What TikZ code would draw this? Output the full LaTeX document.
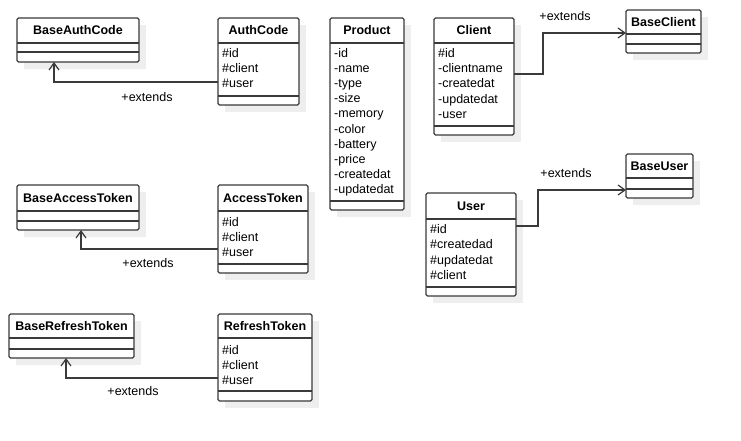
\documentclass[tikz,border=0pt]{standalone}
\usepackage{fontspec}
\setmainfont{Liberation Sans}
\usetikzlibrary{arrows.meta}
\definecolor{shadowc}{HTML}{EEEEEE}
\definecolor{linec}{HTML}{3A3A3A}
\tikzset{
  clsnode/.style={draw=linec, line width=1.2pt, fill=white, rounded corners=1.5pt, inner sep=0pt, outer sep=0pt},
  clsline/.style={draw=linec, line width=1.2pt},
  clstitle/.style={font=\fontsize{12.5}{15}\selectfont\bfseries, inner sep=0pt, anchor=base},
  attr/.style={font=\fontsize{12.5}{15}\selectfont, anchor=base west, inner sep=0pt},
  lbl/.style={font=\fontsize{12.5}{15}\selectfont, inner sep=0pt, anchor=base},
  ext/.style={draw=linec, line width=1.2pt, -{Straight Barb[length=7pt,width=10pt,line width=1.2pt]}},
}
% name, x1, y1, x2, yheader, ysep, ybottom, title
\newcommand\clsbox[8]{%
  \fill[shadowc] (#2+7,#3+7) rectangle (#4+7,#7+7);
  \node[clsnode, anchor=north west, minimum width={#4-#2}, minimum height={#7-#3}] (#1) at (#2,#3) {};
  \draw[clsline] (#2,#5) -- (#4,#5);
  \draw[clsline] (#2,#6) -- (#4,#6);
  \node[clstitle] (#1-t) at ({(#2+#4)/2},{(#3+#5)/2+4.5}) {#8};
}
% name, x, y-first (visual centre), step, list
\newcommand\attrs[5]{%
  \foreach \txt [count=\i from 0] in {#5} {
    \node[attr] (#1-a\i) at (#2+4,{#3+4.5+#4*\i}) {\txt};
  }%
}
\begin{document}
\begin{tikzpicture}[x=1pt,y=-1pt]
\useasboundingbox[fill=white] (0,0) rectangle (741,441);

\clsbox{baseauthcode}{17}{18}{139}{43}{52}{62}{BaseAuthCode}
\clsbox{authcode}{218}{18}{299}{43}{96}{105}{AuthCode}
\attrs{authcode}{218}{53}{15}{\#id,\#client,\#user}

\clsbox{product}{330}{18}{404}{43}{201}{210}{Product}
\attrs{product}{330}{53}{15.1}{-id,-name,-type,-size,-memory,-color,-battery,-price,-createdat,-updatedat}

\clsbox{client}{434}{18}{514}{43}{126}{135}{Client}
\attrs{client}{434}{53}{15.2}{\#id,-clientname,-createdat,-updatedat,-user}

\clsbox{baseclient}{626}{10}{701}{34}{44}{53}{BaseClient}

\clsbox{baseuser}{626}{154}{693}{178}{189}{198}{BaseUser}
\clsbox{user}{426}{193}{516}{219}{287}{296}{User}
\attrs{user}{426}{229}{15.3}{\#id,\#createdad,\#updatedat,\#client}

\clsbox{baseaccesstoken}{17}{185}{139}{211}{221}{230}{BaseAccessToken}
\clsbox{accesstoken}{218}{185}{308}{211}{264}{273}{AccessToken}
\attrs{accesstoken}{218}{222}{15}{\#id,\#client,\#user}

\clsbox{baserefreshtoken}{9}{314}{134}{338}{349}{358}{BaseRefreshToken}
\clsbox{refreshtoken}{218}{314}{312}{338}{391}{401}{RefreshToken}
\attrs{refreshtoken}{218}{350}{15}{\#id,\#client,\#user}

% connectors
\draw[ext] (authcode.west |- 0,82) -| (baseauthcode.south -| 54,0);
\node[lbl] (l1) at (147,101.5) {+extends};

\draw[ext] (accesstoken.west |- 0,249) -| (baseaccesstoken.south -| 81,0);
\node[lbl] (l2) at (148,267.5) {+extends};

\draw[ext] (refreshtoken.west |- 0,378) -| (baserefreshtoken.south -| 66,0);
\node[lbl] (l3) at (133,395.5) {+extends};

\draw[ext] (client.east |- 0,74) -- (543,74) |- (baseclient.west |- 0,33);
\node[lbl] (l4) at (565,20.5) {+extends};

\draw[ext] (user.east |- 0,226) -- (538,226) |- (baseuser.west |- 0,190);
\node[lbl] (l5) at (566,177.5) {+extends};
\end{tikzpicture}
\end{document}
